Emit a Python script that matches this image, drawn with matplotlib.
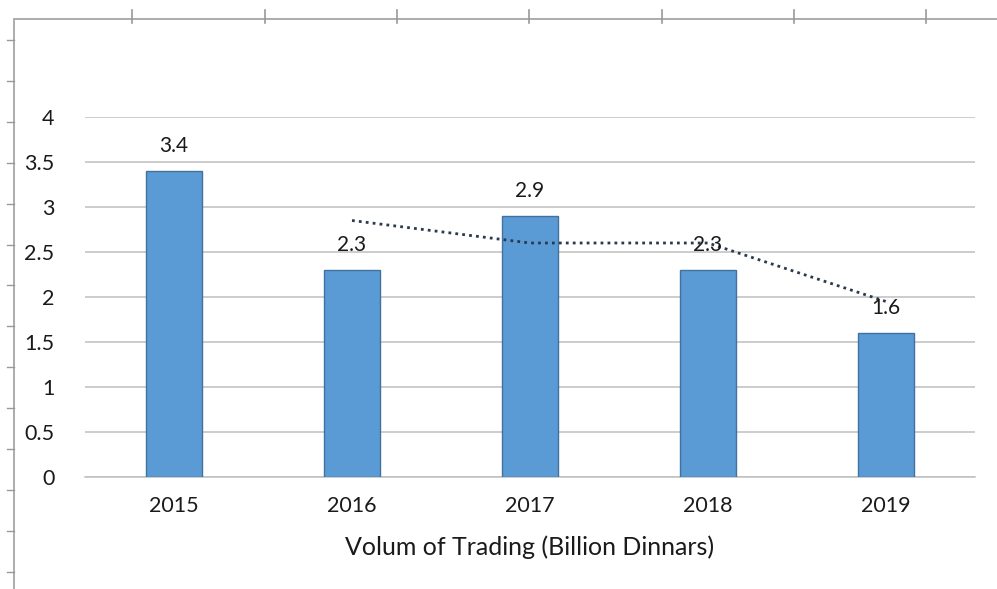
import numpy as np
import matplotlib
matplotlib.use("Agg")
import matplotlib.pyplot as plt
from matplotlib.lines import Line2D

# Datos
years = ['2015', '2016', '2017', '2018', '2019']
volume = [3.4, 2.3, 2.9, 2.3, 1.6]
# media movil de 2 periodos (linea punteada)
trend_years = ['2016', '2017', '2018', '2019']
trend_vals = [2.85, 2.6, 2.6, 1.95]
yticks = [0, 0.5, 1, 1.5, 2, 2.5, 3, 3.5, 4]
yticklabels = ['0', '0.5', '1', '1.5', '2', '2.5', '3', '3.5', '4']

plt.rcParams['font.family'] = ['Lato', 'DejaVu Sans']

W, H = 997, 589
fig = plt.figure(figsize=(W / 100, H / 100), dpi=100)
fig.patch.set_facecolor('white')

# bordes tipo hoja de calculo
border = '#a6a6a6'
fig.add_artist(Line2D([15 / W, 1], [1 - 19 / H, 1 - 19 / H], color=border, lw=1.3))
fig.add_artist(Line2D([14 / W, 14 / W], [0, 1 - 19 / H], color=border, lw=1.3))
for xp in 132.3 + 132.3 * np.arange(7):
    fig.add_artist(Line2D([xp / W, xp / W], [1 - 10 / H, 1 - 23 / H], color='#999999', lw=1.2))
for yp in 40 + 40.9 * np.arange(14):
    fig.add_artist(Line2D([7 / W, 14 / W], [1 - yp / H, 1 - yp / H], color='#999999', lw=1.0))

ax = fig.add_axes([85 / W, 1 - 477 / H, (975 - 85) / W, (477 - 117) / H])
x = np.arange(len(years))
ax.bar(x, volume, width=0.31, color='#5b9bd5', edgecolor='#41719c', linewidth=1.0, zorder=3)

tx = [years.index(y) for y in trend_years]
ax.plot(tx, trend_vals, linestyle=(0, (1, 1.5)), color='#2a3a4e', linewidth=2.0, zorder=4)

for xi, v in zip(x, volume):
    ax.text(xi, v + 0.17, f'{v}', ha='center', va='bottom', fontsize=15, color='#1a1a1a', zorder=5)

ax.set_xlim(-0.5, len(years) - 0.5)
ax.set_ylim(0, 4)
ax.set_yticks(yticks)
ax.set_yticklabels(yticklabels)
ax.set_xticks(x)
ax.set_xticklabels(years)
ax.yaxis.grid(True, color='#bfbfbf', linewidth=1.1, zorder=0)
ax.set_axisbelow(True)
for s in ['top', 'right', 'left']:
    ax.spines[s].set_visible(False)
ax.spines['bottom'].set_color('#bfbfbf')
ax.spines['bottom'].set_linewidth(1.1)
ax.tick_params(axis='both', length=0, labelsize=15.5, colors='#1a1a1a')
ax.tick_params(axis='y', pad=22)
ax.tick_params(axis='x', pad=14)
ax.set_xlabel('Volum of Trading (Billion Dinnars)', fontsize=18, color='#1a1a1a', labelpad=14)

fig.savefig('out.png', dpi=100, facecolor='white')
